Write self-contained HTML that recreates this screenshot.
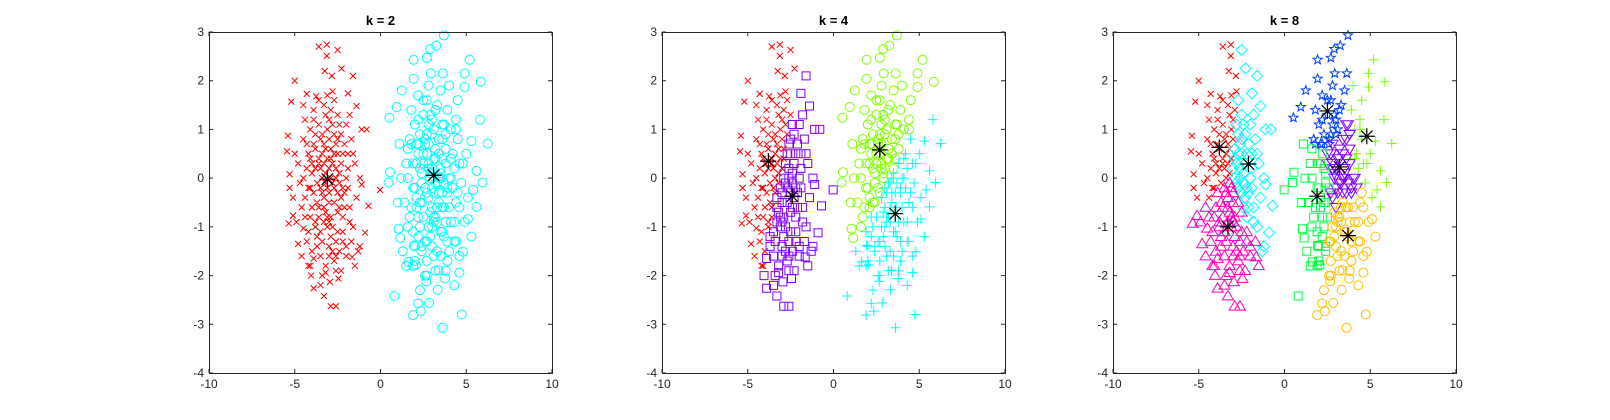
<!DOCTYPE html>
<html><head><meta charset="utf-8"><style>
body{margin:0;background:#fff;}
svg{display:block;font-family:"Liberation Sans",sans-serif;}
</style></head><body>
<svg id="chart" width="1610" height="420" viewBox="0 0 1610 420"></svg>
<script>
// ---------- data ----------
const leftX=[-3.6,-3.13,-3.13,-2.5,-5.0,-3.25,-2.84,-2.27,-1.6,-5.2,-4.3,-3.75,-3.1,-2.8,-1.9,-5.4,-5.45,-5.3,-5.3,-5.35,-5.1,-4.8,-4.5,-4.1,-4.05,-3.9,-3.5,-3.2,-2.95,-2.45,-3.3,-2.9,-2.6,-1.65,-1.2,-0.9,-0.7,-0.02,-1.1,-0.8,-1.1,-1.4,
-3.4,-3.0,-2.6,-3.8,-4.2,-2.2,-3.1,-2.8,-3.5,-4.0,-2.4,-1.9,-3.2,-2.7,-3.9,-4.4,-2.1,-3.0,-3.6,-2.5,-1.8,-4.1,-3.3,-2.8,-2.2,-3.7,-4.3,-3.0,-2.4,-3.5,-2.7,-3.9,-2.0,-1.6,-1.4,-1.5,-1.7,-2.0,-2.5,-3.0,-3.6,-4.1,-4.5,-4.8,-4.7,-4.6,-4.9,-3.3,-2.7,-3.9,-4.4,-2.3,-3.2,-2.9,-3.4,-2.3,-3.8,-2.9,-3.3,-2.6,-4.0,-2.2,-1.9,-1.6,-2.0,-3.6,-4.3,-4.2,-3.7,-2.5,-2.1,-3.1,-3.8,-2.8,-3.5,-4.6,-1.3,-1.2,-1.8,-3.2,-2.6,-5.0,-5.1,-4.5,-1.5,-3.0,-2.7,-3.4,-2.4,-3.1,-4.1];
const leftY=[2.7,2.74,2.51,2.63,2.0,2.2,2.1,2.25,2.1,1.57,1.73,1.68,1.7,1.78,1.74,0.87,0.55,0.08,-0.2,-0.93,-0.77,-1.35,-1.03,-1.8,-2.0,-2.26,-2.2,-1.94,-2.13,-2.06,-2.42,-2.63,-2.63,-1.62,-1.4,-1.12,-0.57,-0.24,-0.13,1.0,1.0,1.48,
0.9,0.8,0.7,0.6,0.5,0.5,0.4,0.3,0.2,0.1,0.1,0.2,-0.1,-0.2,-0.3,-0.4,-0.3,-0.5,-0.6,-0.7,-0.6,-0.8,-0.9,-1.0,-1.1,-1.2,-1.3,-1.4,-1.5,-1.6,-1.7,-1.65,-1.4,-1.0,-0.4,0.3,0.8,1.1,1.3,1.2,1.1,1.0,0.8,0.3,-0.1,-0.6,-0.9,1.5,1.6,1.4,1.2,0.9,0.6,0.0,-0.3,-0.4,-0.9,-1.2,-0.6,-1.3,-1.5,-0.8,-0.2,0.5,-1.6,0.4,0.2,-0.2,-0.1,0.5,0.7,1.0,0.9,1.1,-1.1,-1.6,-1.5,0.0,1.3,-1.8,-1.9,0.5,-0.4,1.5,-1.8,0.2,0.9,0.0,-0.1,-0.8,0.4];
const leftX2=[-3.3,-2.9,-3.6,-2.6,-3.2,-2.8,-3.5,-2.5,-3.0,-3.7,-2.7,-3.2,-2.4,-3.9,-4.0,-2.3,-3.4,-2.6,-3.1,-3.8,-2.9,-3.5,-2.5,-3.3,-4.1,-2.2,-3.6,-2.9,-3.1,-2.5,-3.4,-2.8,-3.7,-2.2,-2.6,-3.0,-4.2,-4.3,-3.9,-3.2,-2.4,-2.9,-3.6,-4.0,-4.5,-4.4,-1.9,-1.8,-1.7,-2.1,-2.0,-3.3,-3.0,-2.7,-3.8,-4.2,-2.3,-3.4];
const leftY2=[0.7,0.6,0.3,0.2,0.1,-0.1,-0.2,-0.3,-0.3,-0.5,-0.5,-0.7,-0.6,0.7,-0.6,0.3,0.5,0.0,-0.2,0.2,0.4,0.8,0.8,-0.4,-0.2,-0.2,-0.8,-0.8,-1.0,-1.1,-1.3,-1.5,-1.4,-1.3,-1.6,-1.6,-1.1,0.7,1.2,1.3,1.1,1.4,1.6,0.3,0.0,-0.8,0.5,-0.9,-1.3,-0.6,0.0,0.3,-0.9,0.5,-1.0,-1.8,-1.9,-2.0];
const rightX=[3.7,3.25,2.9,2.7,1.93,5.2,2.93,3.63,4.9,1.93,5.85,4.9,1.24,0.52,0.95,5.8,6.25,5.3,0.55,0.47,5.6,5.95,5.4,5.6,5.1,1.05,1.15,1.93,1.64,2.06,2.67,0.8,2.2,2.35,2.84,1.9,4.74,3.62,3.33,4.6,4.8,3.77,3.38,
3.0,3.4,2.6,3.8,2.2,4.2,3.1,2.8,3.5,4.0,2.4,1.9,3.2,2.7,3.9,4.4,2.1,3.0,3.6,2.5,1.8,4.1,3.3,2.8,2.2,3.7,4.3,3.0,2.4,3.5,2.7,3.9,2.0,1.6,1.4,1.5,1.7,2.0,2.5,3.0,3.6,4.1,4.5,4.8,4.7,4.6,4.9,3.3,2.7,3.9,4.4,2.3,3.2,2.9,3.4,2.3,3.8,2.9,3.3,2.6,4.0,2.2,1.9,1.6,2.0,3.6,4.3,4.2,3.7,2.5,2.1,3.1,3.8,2.8,3.5,4.6,1.3,1.2,1.8,3.2,2.6,5.0,5.1,4.5,1.5,3.0,2.7,3.4,2.4,3.1,4.1,2.2,3.5,4.0,2.8,1.1,1.0,5.3,4.3,2.3];
const rightY=[2.93,2.72,2.65,2.47,2.43,2.43,2.15,2.15,2.15,2.04,1.98,1.87,1.8,1.24,1.46,1.2,0.71,0.76,0.12,-0.09,0.15,-0.09,-0.24,-0.59,-0.84,-1.04,-1.23,-1.38,-1.72,-1.78,-2.12,-2.42,-2.57,-2.73,-2.56,-2.81,-2.8,-3.07,-2.29,-1.94,-1.51,-2.06,-1.89,
0.9,0.8,0.7,0.6,0.5,0.5,0.4,0.2,0.1,0.0,0.1,0.3,-0.1,-0.3,-0.3,-0.5,-0.4,-0.6,-0.6,-0.8,-0.6,-0.9,-0.9,-1.0,-1.2,-1.2,-1.3,-1.4,-1.5,-1.6,-1.7,-1.7,-1.4,-1.0,-0.5,0.3,0.8,1.1,1.3,1.2,1.1,1.0,0.8,0.3,-0.1,-0.6,-0.9,1.5,1.6,1.4,1.2,0.9,0.6,0.0,-0.3,-0.5,-0.9,-1.2,-0.6,-1.3,-1.5,-0.8,-0.2,0.6,-1.7,0.4,0.2,-0.2,-0.1,0.5,0.7,1.0,0.9,1.1,-1.1,-1.6,-1.5,0.0,1.4,-1.9,-2.0,0.5,-0.4,1.6,-1.8,0.2,0.9,0.0,-0.1,-0.8,0.4,1.7,1.8,1.9,1.9,0.7,-0.5,-1.2,-2.2,-2.3];
const rightX2=[2.8,3.2,2.5,3.5,2.9,3.3,2.6,3.6,3.1,2.4,3.4,2.9,3.7,2.2,2.1,3.8,2.7,3.5,3.0,2.3,3.2,2.6,3.6,2.8,2.0,3.9,2.5,3.2,3.0,3.6,2.7,3.3,2.4,3.9,3.5,3.1,1.9,1.8,2.2,2.9,3.7,3.2,2.5,2.1,1.6,1.7,4.2,4.3,4.4,4.0,4.1,2.8,3.1,3.4,2.3,1.9,3.8,2.7,4.4,4.6,4.5];
const rightY2=[0.7,0.6,0.3,0.2,0.1,-0.1,-0.2,-0.3,-0.3,-0.5,-0.5,-0.7,-0.6,0.7,-0.6,0.3,0.5,0.0,-0.2,0.2,0.4,0.8,0.8,-0.4,-0.2,-0.2,-0.8,-0.8,-1.0,-1.1,-1.3,-1.5,-1.4,-1.3,-1.6,-1.6,-1.1,0.7,1.2,1.3,1.1,1.4,1.6,0.3,0.0,-0.8,0.5,-0.9,-1.3,-0.6,0.0,0.3,-0.9,0.5,-1.0,-1.8,-1.9,-2.0,1.0,0.3,-0.3];
// centroids per k
const k2CX=[-3.1,3.1], k2CY=[-0.02,0.06];
const k4CX=[-3.8,-2.4,2.7,3.6], k4CY=[0.35,-0.37,0.58,-0.73];
const k8CX=[-3.8,-2.1,-3.3,2.5,4.8,3.2,1.9,3.7], k8CY=[0.63,0.29,-1.0,1.38,0.86,0.23,-0.37,-1.18];
const xTicks=[-10,-5,0,5,10], yTicks=[3,2,1,0,-1,-2,-3,-4];
const titles=['k = 2','k = 4','k = 8'];

const allX=leftX.concat(leftX2,rightX,rightX2), allY=leftY.concat(leftY2,rightY,rightY2);
const panels=[
 {x0:209,title:titles[0],cx:k2CX,cy:k2CY,mk:['x','o'],col:['#ff0000','#00ffff']},
 {x0:662,title:titles[1],cx:k4CX,cy:k4CY,mk:['x','s','o','+'],col:['#ff0000','#8000ff','#80ff00','#00ffff']},
 {x0:1113,title:titles[2],cx:k8CX,cy:k8CY,mk:['x','d','^','p','+','v','s','o'],col:['#ff0000','#00ffff','#ff00bf','#0040ff','#80ff00','#8000ff','#00ff40','#ffbf00']}
];
const W=343,H=341,Y0=32;
const NS='http://www.w3.org/2000/svg';
const svg=document.getElementById('chart');
function mk(tag,attrs,parent){const e=document.createElementNS(NS,tag);for(const k in attrs)e.setAttribute(k,attrs[k]);(parent||svg).appendChild(e);return e;}
function markerPath(t,x,y){
 if(t==='x'){const r=3;return `M${x-r},${y-r}L${x+r},${y+r}M${x-r},${y+r}L${x+r},${y-r}`;}
 if(t==='+'){const r=5;return `M${x-r},${y}L${x+r},${y}M${x},${y-r}L${x},${y+r}`;}
 if(t==='s'){const r=4;return `M${x-r},${y-r}h${2*r}v${2*r}h${-2*r}Z`;}
 if(t==='d'){const r=5.5;return `M${x},${y-r}L${x+r},${y}L${x},${y+r}L${x-r},${y}Z`;}
 if(t==='^'){const r=5.5;return `M${x},${y-r}L${x+r},${y+r*0.7}L${x-r},${y+r*0.7}Z`;}
 if(t==='v'){const r=5.5;return `M${x},${y+r}L${x+r},${y-r*0.7}L${x-r},${y-r*0.7}Z`;}
 if(t==='p'){let d='';for(let i=0;i<10;i++){const a=-Math.PI/2+i*Math.PI/5,rr=i%2?2:4.8;d+=(i?'L':'M')+(x+rr*Math.cos(a)).toFixed(1)+','+(y+rr*Math.sin(a)).toFixed(1);}return d+'Z';}
 return `M${x-4.5},${y}a4.5,4.5 0 1,0 9,0a4.5,4.5 0 1,0 -9,0`;
}
panels.forEach((p,pi)=>{
 const sx=v=>p.x0+(v+10)/20*W, sy=v=>Y0+(3-v)/7*H;
 const g=mk('g',{});
 
 
 mk('rect',{x:p.x0,y:Y0,width:W,height:H,fill:'#fff'},g);
 const groups=p.cx.map((_,ci)=>{const gg=mk('g',{fill:'none',stroke:p.col[ci],'stroke-width':1},g);
  
  
  return {g:gg,d:''};});
 for(let i=0;i<allX.length;i++){
  let best=0,bd=1e9;
  for(let c=0;c<p.cx.length;c++){const d=(allX[i]-p.cx[c])**2+(allY[i]-p.cy[c])**2;if(d<bd){bd=d;best=c;}}
  groups[best].d+=markerPath(p.mk[best],sx(allX[i]),sy(allY[i]));
 }
 groups.forEach(o=>{const pa=mk('path',{d:o.d},o.g);
  
  });
 p.cx.forEach((cx,ci)=>{const x=sx(cx),y=sy(p.cy[ci]),r=8,q=5.7;
  const c=mk('path',{d:`M${x-r},${y}L${x+r},${y}M${x},${y-r}L${x},${y+r}M${x-q},${y-q}L${x+q},${y+q}M${x-q},${y+q}L${x+q},${y-q}`,stroke:'#000','stroke-width':1.2,fill:'none'},g);
  
  });
 const box=mk('rect',{x:p.x0+0.5,y:Y0+0.5,width:W,height:H,fill:'none',stroke:'#262626','stroke-width':1},g);
 
 
 xTicks.forEach(t=>{const x=sx(t);
  mk('path',{d:`M${x},${Y0+H}v-4M${x},${Y0}v4`,stroke:'#262626','stroke-width':1},g);
  const tx=mk('text',{x:x,y:Y0+H+15,'text-anchor':'middle','font-size':12,fill:'#262626'},g);tx.textContent=t;
  
  });
 yTicks.forEach(t=>{const y=sy(t);
  mk('path',{d:`M${p.x0},${y}h4M${p.x0+W},${y}h-4`,stroke:'#262626','stroke-width':1},g);
  const tx=mk('text',{x:p.x0-5,y:y+4,'text-anchor':'end','font-size':12,fill:'#262626'},g);tx.textContent=t;
  
  });
 const ti=mk('text',{x:p.x0+W/2,y:25,'text-anchor':'middle','font-size':13,'font-weight':'bold',fill:'#000'},g);
 ti.textContent=p.title;
 
 
});
</script>
</body></html>
